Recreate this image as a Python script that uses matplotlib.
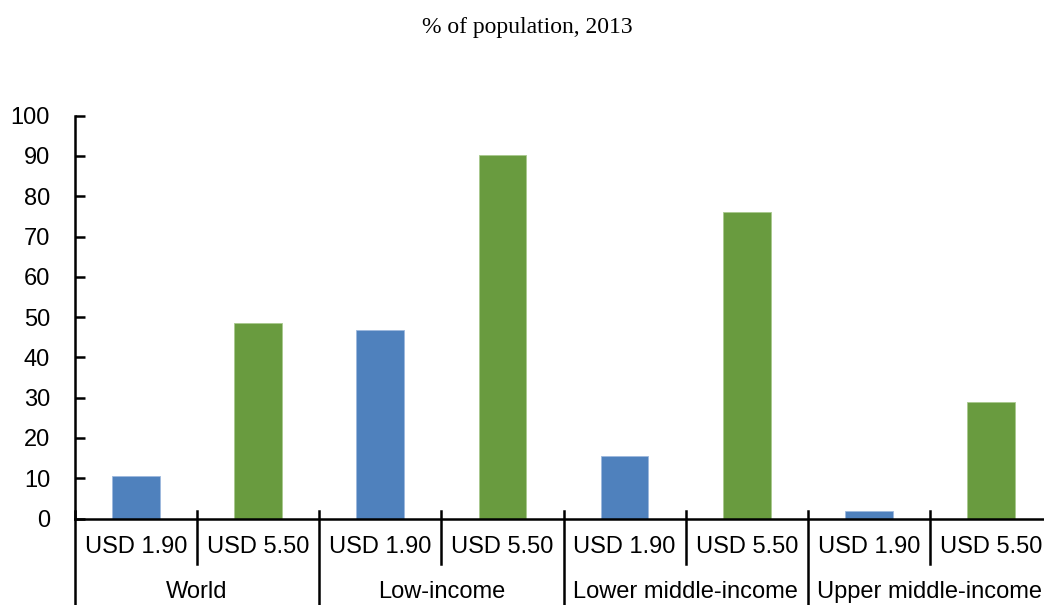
import matplotlib
matplotlib.use("Agg")
import matplotlib.pyplot as plt
import matplotlib.transforms as mtransforms

# --- Data ---
groups = ["World", "Low-income", "Lower middle-income", "Upper middle-income"]
thresholds = ["USD 1.90", "USD 5.50"]
usd190 = [10.6, 46.9, 15.6, 1.9]
usd550 = [48.5, 90.2, 76.1, 28.9]

BLUE = "#4F81BD"
GREEN = "#699B3F"

plt.rcParams['font.family'] = ['Liberation Sans', 'DejaVu Sans']

fig = plt.figure(figsize=(10.44, 6.05), dpi=100)
# axes right edge runs slightly past the figure, like the reference crop
ax = fig.add_axes([75 / 1044, 86.5 / 605, 977 / 1044, 402.8 / 605])

# --- Bars ---
for i, g in enumerate(groups):
    ax.bar(2 * i, usd190[i], width=0.39, color=BLUE, edgecolor="#9DB9DD", linewidth=0.6)
    ax.bar(2 * i + 1, usd550[i], width=0.39, color=GREEN, edgecolor="#A9C98E", linewidth=0.6)

n = 2 * len(groups)
ax.set_xlim(-0.5, n - 0.5)
ax.set_ylim(0, 100)
ax.set_yticks(range(0, 101, 10))
ax.tick_params(axis="y", direction="in", length=7, width=1.8, labelsize=17, pad=18)
ax.set_xticks([])

for s in ["top", "right"]:
    ax.spines[s].set_visible(False)
ax.spines["left"].set_linewidth(1.8)
ax.spines["bottom"].set_linewidth(1.8)

# --- Two-level category axis ---
trans = mtransforms.blended_transform_factory(ax.transData, ax.transAxes)
for k in range(n + 1):
    x = k - 0.5
    if k % 2 == 0:
        ax.plot([x, x], [0.019, -0.25], transform=trans, color="black", lw=1.8, clip_on=False)
    else:
        ax.plot([x, x], [0.019, -0.113], transform=trans, color="black", lw=1.8, clip_on=False)

for k in range(n):
    ax.text(k, -0.070, thresholds[k % 2], transform=trans, ha="center", va="center",
            fontsize=17, clip_on=False)
for i, g in enumerate(groups):
    ax.text(2 * i + 0.5, -0.182, g, transform=trans, ha="center", va="center",
            fontsize=17, clip_on=False)

fig.text(527 / 1044, 1 - 28 / 605, "% of population, 2013", ha="center", va="center",
         fontsize=17, family=["Liberation Serif", "DejaVu Serif"])

fig.savefig("out.png", dpi=100)
